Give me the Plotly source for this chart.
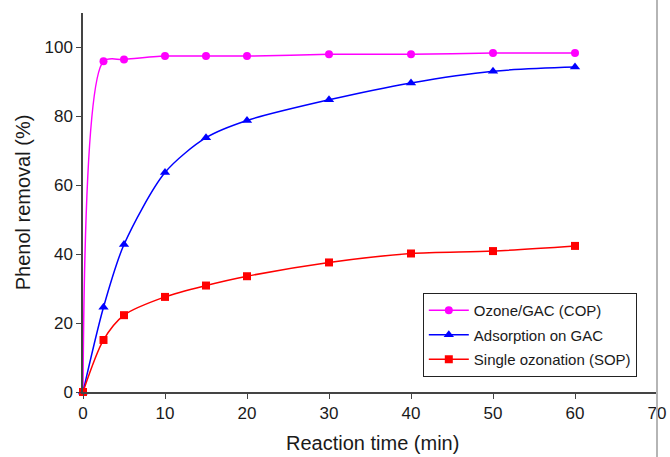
import plotly.graph_objects as go

time_min = [0, 2.5, 5, 10, 15, 20, 30, 40, 50, 60]
cop = [0, 96.0, 96.5, 97.5, 97.5, 97.5, 98.0, 98.0, 98.4, 98.4]
gac = [0, 24.6, 42.8, 63.7, 73.8, 78.8, 84.8, 89.7, 93.1, 94.3]
sop = [0, 15.1, 22.3, 27.6, 30.9, 33.6, 37.6, 40.2, 40.9, 42.4]

names = ["Ozone/GAC (COP)", "Adsorption on GAC", "Single ozonation (SOP)"]
colors = ["#ff00ff", "#0000ff", "#ff0000"]
symbols = ["circle", "triangle-up", "square"]
sizes = [8, 9, 8]

fig = go.Figure()
for i, (name, ys, c, s, sz) in enumerate(zip(names, [cop, gac, sop], colors, symbols, sizes)):
    fig.add_trace(go.Scatter(
        x=time_min, y=ys, name=name, mode="lines+markers",
        legendgroup=f"g{i}",
        line=dict(color=c, width=1.5, shape="spline", smoothing=0.8),
        marker=dict(color=c, symbol=s, size=sz),
        cliponaxis=False,
    ))

font = "Liberation Sans, Arial, sans-serif"
txt = "#1a1a1a"
fig.update_layout(
    width=670, height=457,
    margin=dict(l=83, r=13, t=13, b=65),
    paper_bgcolor="white", plot_bgcolor="white",
    font=dict(family=font, color=txt),
    showlegend=True,
    legend=dict(
        x=0.592, y=0.261, xanchor="left", yanchor="top",
        bordercolor="#222222", borderwidth=1, bgcolor="white",
        font=dict(size=15, family=font, color=txt),
        tracegroupgap=2, itemwidth=40,
    ),
    xaxis=dict(
        range=[0, 70], tickvals=[0, 10, 20, 30, 40, 50, 60, 70],
        showline=True, linecolor="#444444", linewidth=1.5,
        ticks="outside", ticklen=5, tickcolor="#444444",
        showgrid=False, zeroline=False, automargin=False,
        tickfont=dict(size=17),
    ),
    yaxis=dict(
        range=[0, 110], tickvals=[0, 20, 40, 60, 80, 100],
        showline=True, linecolor="#444444", linewidth=1.5,
        ticks="outside", ticklen=5, tickcolor="#444444",
        showgrid=False, zeroline=False, automargin=False,
        tickfont=dict(size=17),
        title=dict(text="Phenol removal (%)", font=dict(size=20), standoff=8),
    ),
)

fig.add_annotation(text="Reaction time (min)", xref="paper", yref="paper",
                   x=0.505, y=-0.135, xanchor="center", yanchor="middle",
                   showarrow=False, font=dict(size=20, family=font, color=txt))

fig.add_shape(type="line", xref="paper", yref="paper",
              x0=1.0, x1=1.0, y0=-0.172, y1=1.034,
              line=dict(color="#b5b5b5", width=2))

fig.write_html("out.html")
